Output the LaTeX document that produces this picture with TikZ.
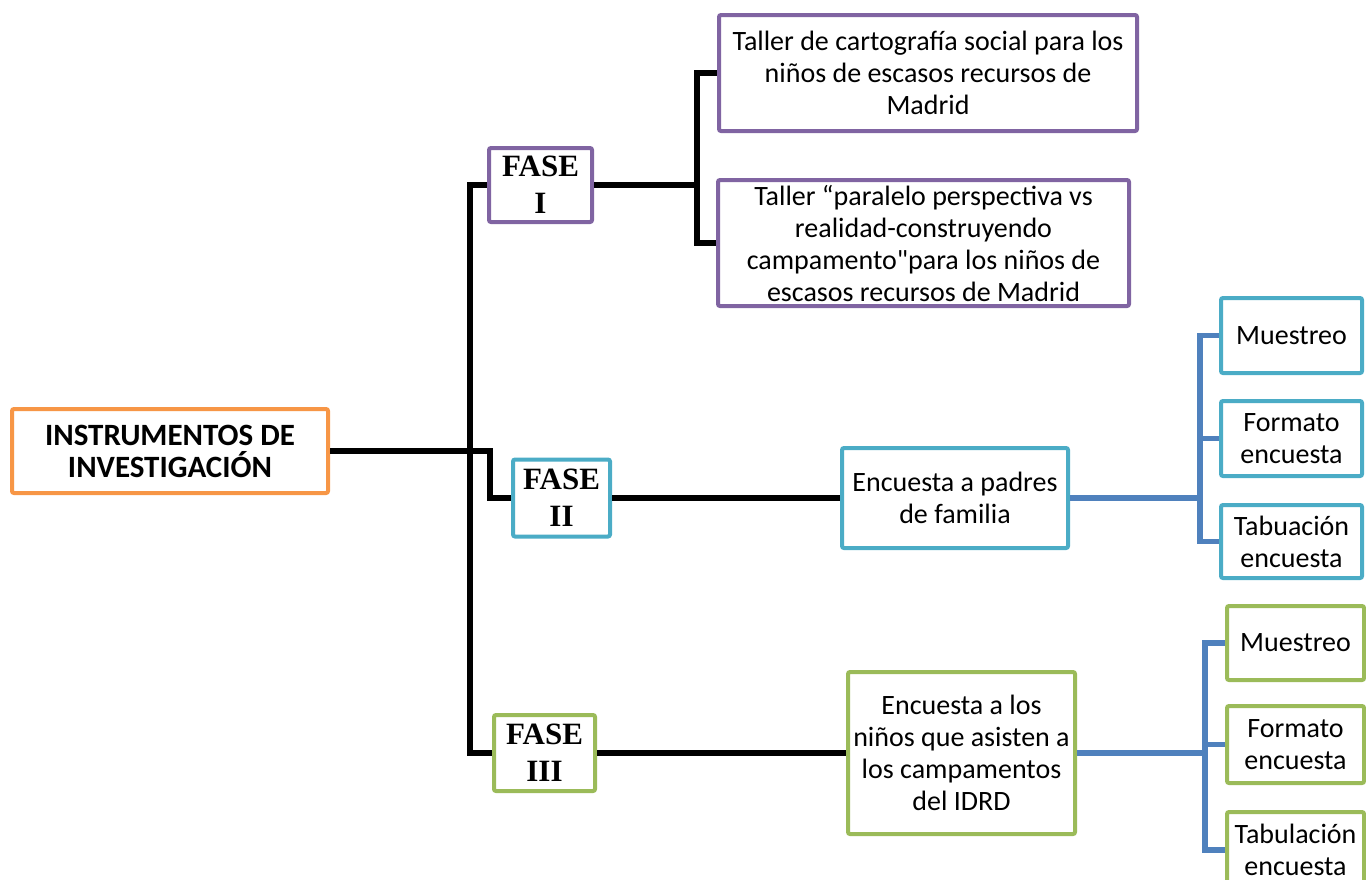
\documentclass[tikz,border=0pt]{standalone}
\usepackage{fontspec}
\setmainfont{Carlito}
\newfontfamily\fasefont{Liberation Serif}
\usepackage{xcolor}
\usepackage{tikz}
\usetikzlibrary{positioning,calc}
\definecolor{naranja}{HTML}{F79646}
\definecolor{morado}{HTML}{8064A2}
\definecolor{celeste}{HTML}{4BACC6}
\definecolor{verde}{HTML}{9BBB59}
\definecolor{azul}{HTML}{4F81BD}

\begin{document}
\begin{tikzpicture}[x=0.5pt,y=-0.5pt,
		caja/.style={draw,line width=2pt,rounded corners=1pt,fill=white,align=center,inner sep=0pt,
			font=\fontsize{14}{16}\selectfont},
		fase/.style={caja,font=\fasefont\bfseries\fontsize{15.5}{18.5}\selectfont},
		conn/.style={line width=2.6pt,black},
		connazul/.style={line width=2.6pt,azul}]
		\useasboundingbox (0,0) rectangle (1366,879);
		\clip (0,0) rectangle (1366,879);
	\node[caja,draw=naranja,font=\bfseries\fontsize{15.5}{16}\selectfont,minimum width=158pt,minimum height=42pt] (raiz) at (170,451) {INSTRUMENTOS DE\\INVESTIGACIÓN};
		\coordinate (tronco) at (470,451);
	\node[fase,draw=morado,minimum width=51.5pt,minimum height=37pt] (fase1) at (540.5,185) {FASE\\I};
	\node[fase,draw=celeste,minimum width=48.5pt,minimum height=38.5pt] (fase2) at (561.5,498) {FASE\\II};
	\node[fase,draw=verde,minimum width=50.5pt,minimum height=38pt] (fase3) at (544.5,753) {FASE\\III};
		\node[caja,draw=morado,minimum width=209pt,minimum height=58pt] (taller1) at (928,73) {Taller de cartografía social para los\\niños de escasos recursos de\\Madrid};
		\node[caja,draw=morado,minimum width=205.5pt,minimum height=63pt] (taller2) at (923.5,243) {Taller “paralelo perspectiva vs\\realidad-construyendo\\campamento\textquotedbl para los niños de\\escasos recursos de Madrid};
		\coordinate (rama1) at (697,185);
	\node[caja,draw=celeste,minimum width=113pt,minimum height=50pt] (padres) at (955,498) {Encuesta a padres\\de familia};
		\coordinate (rama2) at (1200,498);
	\node[caja,draw=celeste,minimum width=70.5pt,minimum height=37.5pt] (muestreo1) at (1291.5,335.5) {Muestreo};
	\node[caja,draw=celeste,minimum width=70.5pt,minimum height=37.5pt] (formato1) at (1291.5,438.5) {Formato\\encuesta};
	\node[caja,draw=celeste,minimum width=70.5pt,minimum height=36.5pt] (tabuacion1) at (1291.5,541.5) {Tabuación\\encuesta};
	\node[caja,draw=verde,minimum width=113.5pt,minimum height=81pt] (ninos) at (961.5,753) {Encuesta a los\\niños que asisten a\\los campamentos\\del IDRD};
		\coordinate (rama3) at (1205,753);
	\node[caja,draw=verde,minimum width=68.5pt,minimum height=37pt] (muestreo2) at (1295.5,643) {Muestreo};
	\node[caja,draw=verde,minimum width=68.5pt,minimum height=38.5pt] (formato2) at (1295.5,744.5) {Formato\\encuesta};
	\node[caja,draw=verde,minimum width=68.5pt,minimum height=38pt] (tabulacion2) at (1295.5,850) {Tabulación\\encuesta};
		\draw[conn] (raiz.east)--(tronco);
		\draw[conn] (tronco)|-(fase1.west);
		\draw[conn] (tronco)|-(fase3.west);
		\draw[conn] (tronco)--++(20,0)|-(fase2.west);
		\draw[conn] (fase1.east)--(rama1);
		\draw[conn] (rama1)|-(taller1.west);
		\draw[conn] (rama1)|-(taller2.west);
		\draw[conn] (fase2.east)--(padres.west);
		\draw[conn] (fase3.east)--(ninos.west);
		\draw[connazul] (padres.east)--(rama2);
		\draw[connazul] (rama2)|-(muestreo1.west);
		\draw[connazul] (rama2)|-(formato1.west);
		\draw[connazul] (rama2)|-(tabuacion1.west);
		\draw[connazul] (ninos.east)--(rama3);
		\draw[connazul] (rama3)|-(muestreo2.west);
		\draw[connazul] (rama3)|-(formato2.west);
		\draw[connazul] (rama3)|-(tabulacion2.west);
	\end{tikzpicture}
\end{document}
